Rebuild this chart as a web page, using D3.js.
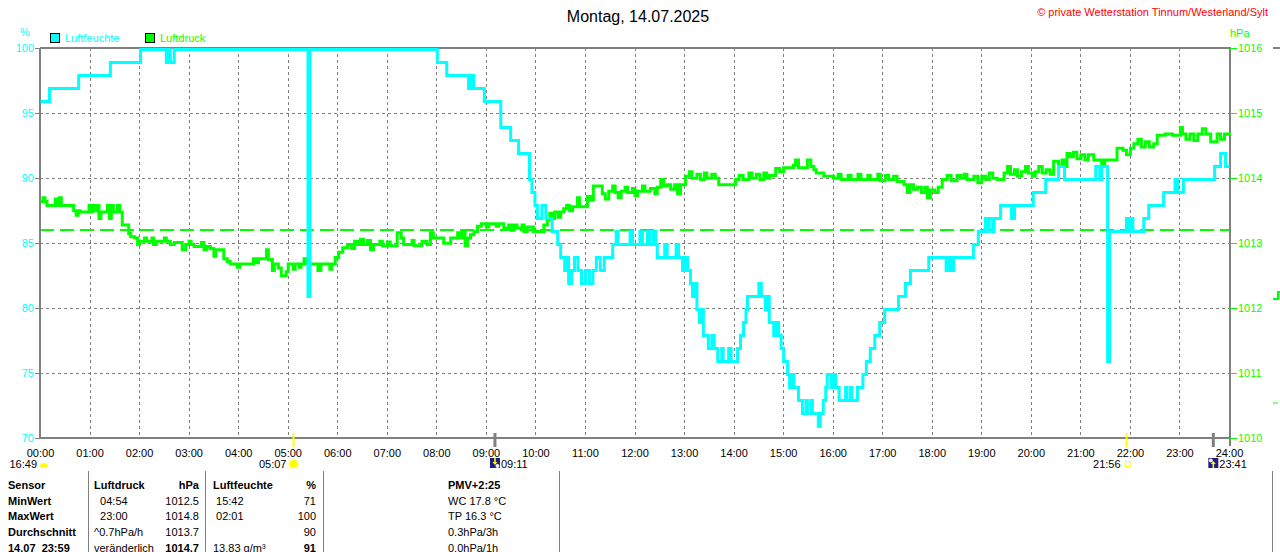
<!DOCTYPE html>
<html>
<head>
<meta charset="utf-8">
<script src="https://cdn.jsdelivr.net/npm/d3@7"></script>
<style>
    body {margin: 0; background: #fff;}
    svg {display: block; font-family: "Liberation Sans", Arial, sans-serif;}
</style>
</head>
<body>
<div id="chart"></div>
<script>
//Data: [hour, value]
const hourTicks = [0,1,2,3,4,5,6,7,8,9,10,11,12,13,14,15,16,17,18,19,20,21,22,23,24];
const humTicks = [70,75,80,85,90,95,100];
const pressTicks = [1010,1011,1012,1013,1014,1015,1016];
const pressAvgLine = 1013.2;

const humidity = [
    [0.00,96],[0.18,97],[0.77,98],[1.41,99],[2.02,100],[2.54,99],[2.58,100],[2.62,99],[2.70,100],
    [5.40,81],[5.44,100],[8.01,99],[8.20,98],[8.64,97],[8.70,98],[8.74,97],[8.96,96],[9.29,94],
    [9.49,93],[9.65,92],[9.87,90],[9.92,89],[9.98,88],[10.03,87],[10.12,88],[10.20,87],[10.33,86],
    [10.44,85],[10.50,84],[10.58,83],[10.62,84],[10.66,82],[10.72,83],[10.78,84],[10.85,83],[10.92,82],
    [11.00,83],[11.08,82],[11.15,83],[11.22,84],[11.30,83],[11.38,84],[11.55,85],[11.62,86],[11.66,85],
    [11.90,86],[11.95,85],[12.10,86],[12.15,85],[12.25,86],[12.30,85],[12.37,86],[12.42,85],[12.45,84],
    [12.60,85],[12.65,84],[12.83,85],[12.88,84],[12.96,83],[13.02,84],[13.06,83],[13.12,82],[13.16,81],
    [13.20,82],[13.25,80],[13.30,79],[13.35,80],[13.38,78],[13.48,77],[13.55,78],[13.60,77],[13.67,76],
    [13.75,77],[13.78,76],[13.89,77],[13.94,76],[14.07,77],[14.13,78],[14.19,79],[14.24,80],[14.27,81],
    [14.50,82],[14.55,81],[14.63,80],[14.68,81],[14.71,79],[14.80,78],[14.85,79],[14.90,78],[14.95,77],
    [15.00,76],[15.08,75],[15.12,74],[15.17,75],[15.21,74],[15.30,73],[15.38,72],[15.45,73],[15.48,72],
    [15.55,73],[15.58,72],[15.70,71],[15.74,72],[15.80,73],[15.85,74],[15.88,75],[15.96,74],[16.00,75],
    [16.05,74],[16.12,73],[16.25,74],[16.28,73],[16.35,74],[16.38,73],[16.49,74],[16.60,75],[16.67,76],
    [16.75,77],[16.84,78],[16.94,79],[17.04,80],[17.32,81],[17.46,82],[17.56,83],[17.93,84],[18.28,83],
    [18.33,84],[18.38,83],[18.43,84],[18.83,85],[18.93,86],[19.07,87],[19.12,86],[19.15,87],[19.22,86],
    [19.25,87],[19.38,88],[19.60,87],[19.66,88],[20.04,89],[20.29,90],[20.55,91],[20.67,90],[21.30,91],
    [21.38,90],[21.42,91],[21.54,76],[21.58,86],[21.92,87],[21.97,86],[22.00,87],[22.05,86],[22.27,87],
    [22.37,88],[22.67,89],[22.90,90],[22.95,89],[23.07,90],[23.70,91],[23.82,92],[23.92,91],[24.00,91]
];

const pressure = [
    [0.00,1013.66],[0.05,1013.72],[0.09,1013.66],[0.13,1013.6],[0.30,1013.7],[0.34,1013.6],[0.38,1013.72],
    [0.42,1013.6],[0.67,1013.52],[0.72,1013.45],[0.76,1013.52],[0.80,1013.5],[0.98,1013.6],[1.02,1013.5],
    [1.05,1013.6],[1.08,1013.52],[1.14,1013.6],[1.18,1013.4],[1.22,1013.5],[1.35,1013.6],[1.39,1013.4],
    [1.43,1013.6],[1.47,1013.5],[1.55,1013.6],[1.60,1013.5],[1.65,1013.3],[1.78,1013.17],[1.82,1013.12],
    [1.90,1013.1],[1.96,1013.0],[2.00,1013.05],[2.10,1013.1],[2.14,1013.05],[2.25,1013.1],[2.28,1013.0],
    [2.34,1013.05],[2.50,1013.1],[2.54,1013.05],[2.62,1013.0],[2.70,1013.03],[2.86,1012.92],[2.93,1013.0],
    [3.00,1013.05],[3.04,1013.0],[3.10,1012.97],[3.25,1013.03],[3.30,1012.92],[3.36,1012.97],[3.43,1012.94],
    [3.50,1012.82],[3.54,1012.92],[3.70,1012.78],[3.77,1012.74],[3.83,1012.7],[3.97,1012.65],[4.02,1012.7],
    [4.30,1012.78],[4.36,1012.72],[4.40,1012.78],[4.56,1012.92],[4.60,1012.77],[4.68,1012.6],[4.72,1012.7],
    [4.80,1012.64],[4.86,1012.52],[4.96,1012.58],[5.00,1012.7],[5.10,1012.62],[5.14,1012.7],[5.22,1012.65],
    [5.26,1012.7],[5.32,1012.78],[5.38,1012.7],[5.60,1012.6],[5.66,1012.7],[5.84,1012.62],[5.88,1012.7],
    [5.95,1012.8],[6.02,1012.88],[6.10,1012.95],[6.20,1013.0],[6.28,1012.94],[6.34,1013.05],[6.40,1013.0],
    [6.46,1013.08],[6.52,1013.0],[6.60,1013.06],[6.66,1012.92],[6.72,1013.0],[6.85,1013.05],[6.90,1012.98],
    [7.00,1013.04],[7.06,1012.98],[7.20,1013.18],[7.28,1013.1],[7.33,1013.0],[7.50,1013.06],[7.54,1012.98],
    [7.70,1013.05],[7.80,1013.0],[7.87,1013.18],[7.93,1013.1],[8.14,1013.02],[8.28,1013.1],[8.42,1013.18],
    [8.48,1013.1],[8.52,1013.2],[8.57,1012.98],[8.62,1013.1],[8.68,1013.15],[8.75,1013.2],[8.82,1013.28],
    [8.90,1013.32],[9.00,1013.27],[9.05,1013.32],[9.20,1013.28],[9.25,1013.32],[9.35,1013.25],[9.45,1013.3],
    [9.50,1013.22],[9.56,1013.3],[9.62,1013.25],[9.72,1013.3],[9.76,1013.2],[9.82,1013.27],[9.95,1013.2],
    [10.16,1013.3],[10.23,1013.38],[10.28,1013.48],[10.34,1013.4],[10.38,1013.5],[10.45,1013.42],[10.50,1013.5],
    [10.56,1013.55],[10.62,1013.6],[10.68,1013.52],[10.74,1013.58],[10.84,1013.72],[10.88,1013.58],[11.04,1013.74],
    [11.10,1013.68],[11.16,1013.9],[11.34,1013.78],[11.40,1013.7],[11.47,1013.82],[11.55,1013.9],[11.60,1013.8],
    [11.66,1013.72],[11.72,1013.82],[11.80,1013.88],[11.85,1013.8],[11.95,1013.86],[12.00,1013.75],[12.05,1013.82],
    [12.15,1013.9],[12.20,1013.82],[12.31,1013.86],[12.40,1013.78],[12.45,1013.88],[12.52,1014.0],[12.58,1013.9],
    [12.65,1013.92],[12.72,1013.85],[12.80,1013.92],[12.86,1013.78],[12.92,1013.92],[13.02,1014.05],[13.10,1014.12],
    [13.15,1014.02],[13.25,1014.08],[13.32,1014.0],[13.40,1014.1],[13.45,1014.02],[13.55,1014.08],[13.62,1014.02],
    [13.69,1013.92],[14.03,1014.0],[14.10,1014.06],[14.18,1014.0],[14.30,1014.1],[14.36,1014.02],[14.45,1014.08],
    [14.52,1014.0],[14.60,1014.1],[14.66,1014.02],[14.72,1014.06],[14.84,1014.17],[14.92,1014.12],[15.00,1014.18],
    [15.20,1014.22],[15.24,1014.3],[15.30,1014.18],[15.48,1014.3],[15.55,1014.2],[15.61,1014.15],[15.66,1014.1],
    [15.81,1014.05],[16.01,1014.02],[16.10,1014.08],[16.16,1014.0],[16.30,1014.06],[16.36,1014.0],[16.50,1014.08],
    [16.56,1014.0],[16.70,1014.06],[16.75,1014.0],[16.90,1014.08],[16.95,1013.98],[17.05,1014.06],[17.12,1014.0],
    [17.22,1014.05],[17.29,1013.97],[17.43,1013.92],[17.50,1013.8],[17.55,1013.92],[17.62,1013.85],[17.70,1013.88],
    [17.78,1013.8],[17.85,1013.88],[17.90,1013.72],[17.96,1013.84],[18.05,1013.8],[18.12,1013.88],[18.20,1014.0],
    [18.30,1014.06],[18.38,1013.98],[18.50,1014.06],[18.57,1014.02],[18.64,1014.08],[18.70,1014.0],[18.84,1014.05],
    [18.92,1013.95],[19.00,1014.05],[19.08,1014.0],[19.15,1014.1],[19.22,1014.02],[19.31,1014.0],[19.45,1014.1],
    [19.52,1014.2],[19.58,1014.08],[19.66,1014.15],[19.72,1014.05],[19.80,1014.12],[19.88,1014.2],[19.94,1014.1],
    [20.02,1014.05],[20.08,1014.12],[20.15,1014.2],[20.22,1014.1],[20.30,1014.15],[20.38,1014.08],[20.45,1014.28],
    [20.55,1014.2],[20.62,1014.3],[20.68,1014.2],[20.72,1014.4],[20.78,1014.35],[20.85,1014.42],[20.92,1014.32],
    [21.00,1014.38],[21.08,1014.3],[21.15,1014.38],[21.26,1014.3],[21.35,1014.3],[21.42,1014.22],[21.48,1014.3],
    [21.73,1014.48],[21.85,1014.45],[21.92,1014.38],[22.00,1014.48],[22.07,1014.55],[22.15,1014.62],[22.22,1014.5],
    [22.30,1014.58],[22.38,1014.5],[22.47,1014.55],[22.54,1014.68],[22.70,1014.7],[22.85,1014.68],[23.01,1014.8],
    [23.05,1014.7],[23.12,1014.62],[23.20,1014.7],[23.28,1014.6],[23.36,1014.7],[23.45,1014.78],[23.52,1014.7],
    [23.62,1014.58],[23.75,1014.7],[23.82,1014.62],[23.90,1014.7],[24.00,1014.68]
];

//sun / moon events under the time axis
const sunEvents = [
    {label: "16:49", hour: 0, icon: "moon", tick: null},
    {label: "05:07", hour: 5 + 7/60, icon: "sun", tick: "#ffff00"},
    {label: "09:11", hour: 9 + 11/60, icon: "moonset", tick: "#808080"},
    {label: "21:56", hour: 21 + 56/60, icon: "sunset", tick: "#ffff00"},
    {label: "23:41", hour: 23 + 41/60, icon: "moonrise", tick: "#808080"}
];

//table below the chart
const tableRows = [
    ["Sensor", "Luftdruck", "hPa", "Luftfeuchte", "%", "PMV+2:25"],
    ["MinWert", "  04:54", "1012.5", " 15:42", "71", "WC 17.8 °C"],
    ["MaxWert", "  23:00", "1014.8", " 02:01", "100", "TP 16.3 °C"],
    ["Durchschnitt", "^0.7hPa/h", "1013.7", "", "90", "0.3hPa/3h"],
    ["14.07  23:59", "veränderlich", "1014.7", "13.83 g/m³", "91", "0.0hPa/1h"]
];

function d1() {
    const width = 1280, height = 552;
    const plot = {l: 40, r: 1229, t: 48, b: 438};
    const grey = "#808080", cyan = "#00ffff", green = "#00ff00";

    let svg = d3.select("#chart").append("svg")
        .attr("width", width)
        .attr("height", height);
    svg.append("rect").attr("width", width).attr("height", height).attr("fill", "#fff");

    let x = d3.scaleLinear().domain([0, 24]).range([plot.l, plot.r]);
    let yH = d3.scaleLinear().domain([70, 100]).range([plot.b, plot.t]);
    let yP = d3.scaleLinear().domain([1010, 1016]).range([plot.b, plot.t]);

    //title + copyright
    svg.append("text").attr("x", 638).attr("y", 22).attr("text-anchor", "middle")
        .attr("font-size", 16).text("Montag, 14.07.2025");
    svg.append("text").attr("x", 1268).attr("y", 16).attr("text-anchor", "end")
        .attr("font-size", 11).attr("fill", "#ff0000")
        .text("© private Wetterstation Tinnum/Westerland/Sylt");

    //unit labels
    svg.append("text").attr("x", 25).attr("y", 36).attr("text-anchor", "middle")
        .attr("font-size", 11).attr("fill", cyan).text("%");
    svg.append("text").attr("x", 1230).attr("y", 37)
        .attr("font-size", 11).attr("fill", green).text("hPa");

    //legend
    const legend = [{name: "Luftfeuchte", color: cyan, x: 50}, {name: "Luftdruck", color: green, x: 145}];
    let lg = svg.append("g").selectAll("g").data(legend).join("g")
        .attr("transform", d => `translate(${d.x},33)`);
    lg.append("rect").attr("x", 0.5).attr("y", 0.5).attr("width", 9).attr("height", 9)
        .attr("fill", d => d.color).attr("stroke", "#000");
    lg.append("text").attr("x", 15).attr("y", 9).attr("font-size", 11)
        .attr("fill", d => d.color).text(d => d.name);

    //grid
    let grid = svg.append("g").attr("stroke", grey).attr("stroke-dasharray", "3,3")
        .attr("shape-rendering", "crispEdges");
    grid.selectAll(".v").data(hourTicks.slice(1, -1)).join("line")
        .attr("x1", d => Math.round(x(d)) + 0.5).attr("x2", d => Math.round(x(d)) + 0.5)
        .attr("y1", plot.t).attr("y2", plot.b - 1);
    grid.selectAll(".h").data(humTicks.slice(1, -1)).join("line")
        .attr("x1", plot.l).attr("x2", plot.r)
        .attr("y1", d => Math.round(yH(d)) + 0.5).attr("y2", d => Math.round(yH(d)) + 0.5);

    //average pressure line
    svg.append("line")
        .attr("x1", plot.l).attr("x2", plot.r)
        .attr("y1", yP(pressAvgLine)).attr("y2", yP(pressAvgLine))
        .attr("stroke", green).attr("stroke-width", 2).attr("stroke-dasharray", "14,6");

    //frame
    svg.append("path")
        .attr("d", `M${plot.l},${plot.t}H${plot.r + 1}V${plot.b + 8}M${plot.l},${plot.t}V${plot.b}H${plot.r}`)
        .attr("fill", "none").attr("stroke", grey).attr("stroke-width", 2);

    //series
    let lines = svg.append("g").attr("transform", "translate(0.5,1.5)");
    lines.append("path").datum(pressure)
        .attr("fill", "none").attr("stroke", green).attr("stroke-width", 3)
        .attr("d", d3.line().curve(d3.curveStepAfter).x(d => x(d[0])).y(d => yP(d[1])));
    lines.append("path").datum(humidity)
        .attr("fill", "none").attr("stroke", cyan).attr("stroke-width", 3)
        .attr("d", d3.line().curve(d3.curveStepAfter).x(d => x(d[0])).y(d => yH(d[1])));

    //axes
    let axisL = d3.axisLeft(yH).tickValues(humTicks).tickSize(5).tickPadding(1);
    let gL = svg.append("g").attr("transform", `translate(${plot.l},0)`).call(axisL)
        .attr("font-family", null).attr("font-size", 11);
    gL.select(".domain").remove();
    gL.selectAll("line").attr("stroke", grey);
    gL.selectAll("text").attr("fill", cyan);

    let axisR = d3.axisRight(yP).tickValues(pressTicks).tickSize(7).tickPadding(1).tickFormat(d3.format("d"));
    let gR = svg.append("g").attr("transform", `translate(${plot.r + 1},0)`).call(axisR)
        .attr("font-family", null).attr("font-size", 11);
    gR.select(".domain").remove();
    gR.selectAll("line").attr("stroke", green);
    gR.selectAll("text").attr("fill", green);

    let axisB = d3.axisBottom(x).tickValues(hourTicks).tickSize(0).tickPadding(11)
        .tickFormat(d => (d < 10 ? "0" : "") + d + ":00");
    let gB = svg.append("g").attr("transform", `translate(0,${plot.b})`).call(axisB)
        .attr("font-family", null).attr("font-size", 11);
    gB.select(".domain").remove();
    gB.selectAll("text").attr("fill", "#000");

    //sun / moon events
    let ev = svg.append("g");
    sunEvents.forEach(function(e) {
        let ex = x(e.hour);
        if (e.tick) {
            ev.append("line").attr("x1", ex).attr("x2", ex).attr("y1", 433).attr("y2", 447)
                .attr("stroke", e.tick).attr("stroke-width", e.tick === grey ? 3 : 2);
        }
        if (e.icon === "moon") {
            ev.append("path").attr("d", `M${ex},467 a4,4 0 0 1 8,0 z`).attr("fill", "#ffff00");
            ev.append("text").attr("x", ex - 3).attr("y", 468).attr("text-anchor", "end")
                .attr("font-size", 11).text(e.label);
        } else if (e.icon === "sun") {
            let s = ev.append("g").attr("transform", `translate(${ex},464)`);
            s.selectAll("line").data(d3.range(8)).join("line")
                .attr("x1", 0).attr("y1", 0)
                .attr("x2", i => 6.5 * Math.cos(i * Math.PI / 4)).attr("y2", i => 6.5 * Math.sin(i * Math.PI / 4))
                .attr("stroke", "#ffff99").attr("stroke-width", 1.5);
            s.append("circle").attr("r", 4).attr("fill", "#ffff00");
            ev.append("text").attr("x", ex - 7).attr("y", 468).attr("text-anchor", "end")
                .attr("font-size", 11).text(e.label);
        } else if (e.icon === "sunset") {
            ev.append("rect").attr("x", ex - 1.5).attr("y", 461.5).attr("width", 5).attr("height", 5)
                .attr("fill", "none").attr("stroke", "#ffff00");
            ev.append("text").attr("x", ex - 6).attr("y", 468).attr("text-anchor", "end")
                .attr("font-size", 11).text(e.label);
        } else {
            let up = e.icon === "moonrise";
            let m = ev.append("g").attr("transform", `translate(${ex - 5},458)`);
            m.append("rect").attr("width", 10).attr("height", 10).attr("fill", "#1c1c8a");
            m.append("circle").attr("cx", up ? 2.5 : 7.5).attr("cy", up ? 2.5 : 8).attr("r", 2).attr("fill", "#eeeeff");
            m.append("path")
                .attr("d", up ? "M5,3 L2.5,6 H4.2 V10 H5.8 V6 H7.5 Z" : "M5,7 L2.5,4 H4.2 V0 H5.8 V4 H7.5 Z")
                .attr("fill", "#ffff00");
            ev.append("text").attr("x", ex + 6).attr("y", 468)
                .attr("font-size", 11).text(e.label);
        }
    });

    //odd stub of a second axis on the far right
    svg.append("line").attr("x1", 1273).attr("x2", 1280).attr("y1", 48).attr("y2", 48)
        .attr("stroke", grey).attr("stroke-width", 2);
    svg.append("path").attr("d", "M1273,299 H1278 V292 H1280")
        .attr("fill", "none").attr("stroke", green).attr("stroke-width", 2);
    svg.append("line").attr("x1", 1273).attr("x2", 1278).attr("y1", 403).attr("y2", 403)
        .attr("stroke", green).attr("stroke-width", 1);

    //table
    let table = svg.append("g").attr("font-size", 11);
    [88, 205, 323, 559, 1272].forEach(function(lx) {
        table.append("line").attr("x1", lx + 0.5).attr("x2", lx + 0.5).attr("y1", 471).attr("y2", height)
            .attr("stroke", grey);
    });
    const cols = [
        {x: 8, anchor: "start"}, {x: 94, anchor: "start"}, {x: 199, anchor: "end"},
        {x: 213, anchor: "start"}, {x: 316, anchor: "end"}, {x: 448, anchor: "start"}
    ];
    tableRows.forEach(function(row, r) {
        row.forEach(function(cell, c) {
            let bold = r === 0 || c === 0 || (r === tableRows.length - 1 && (c === 2 || c === 4));
            table.append("text")
                .attr("x", cols[c].x).attr("y", 489 + r * 15.7)
                .attr("text-anchor", cols[c].anchor)
                .attr("font-weight", bold ? "bold" : null)
                .attr("xml:space", "preserve")
                .style("white-space", "pre")
                .text(cell);
        });
    });
}
d1();
</script>
</body>
</html>
